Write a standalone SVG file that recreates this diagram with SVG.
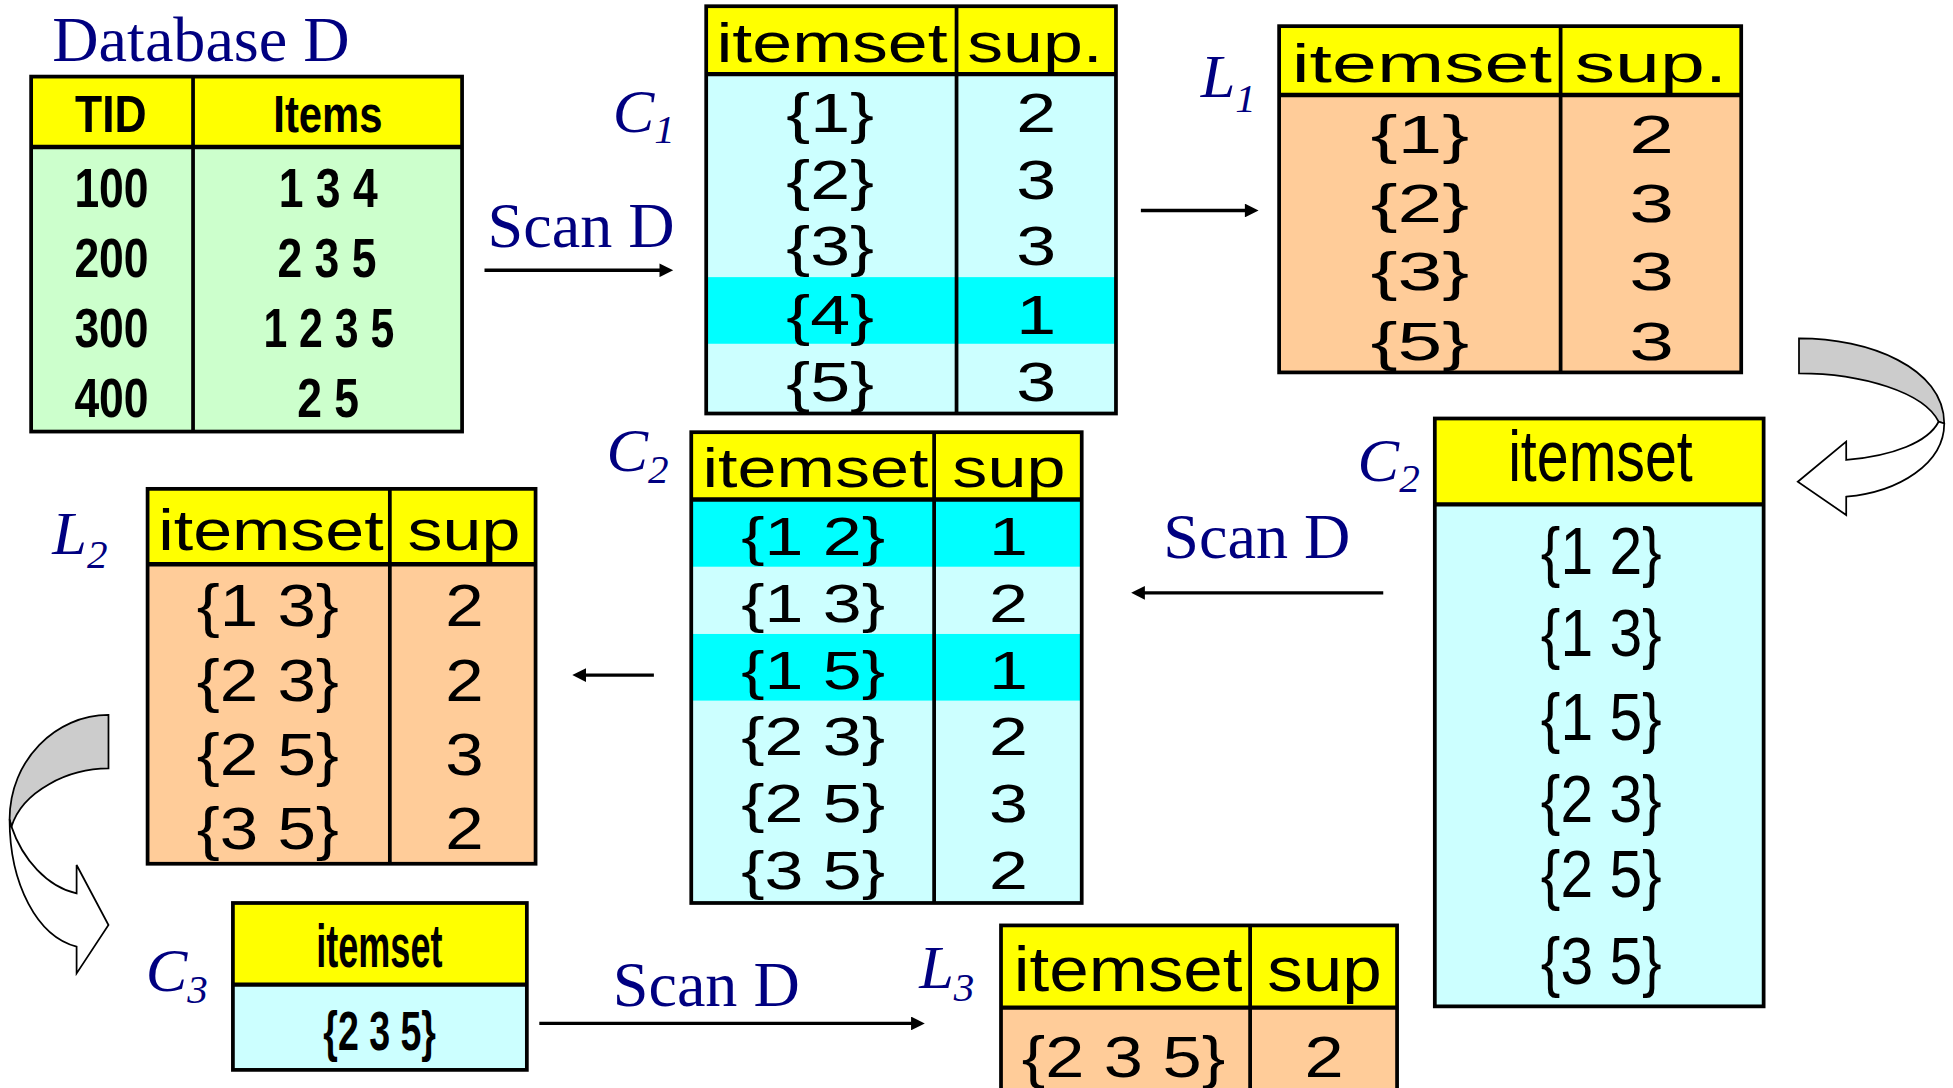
<svg xmlns="http://www.w3.org/2000/svg" width="1953" height="1088" viewBox="0 0 1953 1088">
<style>
.yel{fill:#ffff00}
.grn{fill:#ccffcc}
.lcy{fill:#ccffff}
.cy{fill:#00ffff}
.pch{fill:#ffcc99}
.bd{fill:none;stroke:#000;stroke-width:3}
.sep{stroke:#000;stroke-width:3.5}
.dv{stroke:#000;stroke-width:3}
.t{font-family:"Liberation Sans",Arial,sans-serif;text-anchor:middle;fill:#000}
.b{font-weight:bold}
.navy{font-family:"Liberation Serif","Times New Roman",serif;fill:#000080;font-size:51.5px}
.it{font-style:italic;font-size:50px}
.sub{font-size:33px}
.conn{stroke:#000;stroke-width:2.7;fill:none}
.crv{stroke:#000;stroke-width:1.4;stroke-linejoin:miter}
.gray{fill:#cccccc}
.wht{fill:#ffffff}
</style>
<defs>
<marker id="ah" viewBox="0 0 12 12" refX="6" refY="6" markerWidth="12" markerHeight="11" markerUnits="userSpaceOnUse" orient="auto"><path d="M0,0L12,6L0,12z" fill="#000"/></marker>
</defs>
<rect width="1953" height="1088" fill="#fff"/>
<g transform="scale(1.2455)">

<g id="database-d">
<text class="navy" x="42" y="49">Database D</text>
<rect class="yel" x="25" y="61.5" width="346" height="56.5"/>
<rect class="grn" x="25" y="118" width="346" height="228.5"/>
<line class="dv" x1="155" y1="61.5" x2="155" y2="346.5"/>
<line class="sep" x1="25" y1="118" x2="371" y2="118"/>
<rect class="bd" x="25" y="61.5" width="346" height="285" stroke-width="3.5"/>
<g class="t b" font-size="42">
<text transform="translate(89,106) scale(0.85,1)">TID</text>
<text transform="translate(263.3,106) scale(0.8,1)">Items</text>
</g>
<g class="t b" font-size="44.6">
<text transform="translate(89.5,166) scale(0.8,1)">100</text>
<text transform="translate(263.5,166) scale(0.8,1)">1 3 4</text>
<text transform="translate(89.5,222.5) scale(0.8,1)">200</text>
<text transform="translate(262.5,222.5) scale(0.8,1)">2 3 5</text>
<text transform="translate(89.5,279) scale(0.8,1)">300</text>
<text transform="translate(264,279) scale(0.77,1)">1 2 3 5</text>
<text transform="translate(89.5,335) scale(0.8,1)">400</text>
<text transform="translate(263.5,335) scale(0.8,1)">2 5</text>
</g>
</g>

<g id="c1">
<text class="navy it" x="492" y="106">C<tspan class="sub" dy="9">1</tspan></text>
<rect class="yel" x="567" y="5" width="329" height="54.5"/>
<rect class="lcy" x="567" y="59.5" width="329" height="272.5"/>
<rect class="cy" x="567" y="222.5" width="329" height="53.5"/>
<line class="dv" x1="768" y1="5" x2="768" y2="332"/>
<line class="sep" x1="567" y1="59.5" x2="896" y2="59.5"/>
<rect class="bd" x="567" y="5" width="329" height="327"/>
<g class="t" font-size="45">
<text transform="translate(668,49.5) scale(1.28,1)">itemset</text>
<text transform="translate(831,49.5) scale(1.28,1)">sup.</text>
<text transform="translate(666.5,106) scale(1.28,1)">{1}</text>
<text transform="translate(832,106) scale(1.28,1)">2</text>
<text transform="translate(666.5,159.5) scale(1.28,1)">{2}</text>
<text transform="translate(832,159.5) scale(1.28,1)">3</text>
<text transform="translate(666.5,213) scale(1.28,1)">{3}</text>
<text transform="translate(832,213) scale(1.28,1)">3</text>
<text transform="translate(666.5,268) scale(1.28,1)">{4}</text>
<text transform="translate(832,268) scale(1.28,1)">1</text>
<text transform="translate(666.5,321.6) scale(1.28,1)">{5}</text>
<text transform="translate(832,321.6) scale(1.28,1)">3</text>
</g>
</g>

<g id="l1">
<text class="navy it" x="964" y="77.8">L<tspan class="sub" dy="12">1</tspan></text>
<rect class="yel" x="1027" y="21" width="371" height="55.3"/>
<rect class="pch" x="1027" y="76.3" width="371" height="222.7"/>
<line class="dv" x1="1253" y1="21" x2="1253" y2="299"/>
<line class="sep" x1="1027" y1="76.3" x2="1398" y2="76.3"/>
<rect class="bd" x="1027" y="21" width="371" height="278"/>
<g class="t" font-size="43.5">
<text transform="translate(1141.5,65.7) scale(1.49,1)">itemset</text>
<text transform="translate(1325.5,65.7) scale(1.49,1)">sup.</text>
</g>
<g class="t" font-size="43">
<text transform="translate(1140,123) scale(1.5,1)">{1}</text>
<text transform="translate(1326,123) scale(1.5,1)">2</text>
<text transform="translate(1140,178) scale(1.5,1)">{2}</text>
<text transform="translate(1326,178) scale(1.5,1)">3</text>
<text transform="translate(1140,233) scale(1.5,1)">{3}</text>
<text transform="translate(1326,233) scale(1.5,1)">3</text>
<text transform="translate(1140,289) scale(1.5,1)">{5}</text>
<text transform="translate(1326,289) scale(1.5,1)">3</text>
</g>
</g>

<g id="c2-candidates">
<text class="navy it" x="1090" y="386">C<tspan class="sub" dy="9">2</tspan></text>
<rect class="yel" x="1152" y="336" width="264" height="69"/>
<rect class="lcy" x="1152" y="405" width="264" height="403"/>
<line class="sep" x1="1152" y1="405" x2="1416" y2="405" stroke-width="6"/>
<rect class="bd" x="1152" y="336" width="264" height="472" stroke-width="4"/>
<text class="t" font-size="57.5" transform="translate(1285,386) scale(0.8,1)">itemset</text>
<g class="t" font-size="53">
<text transform="translate(1285.6,460.5) scale(0.89,1)">{1 2}</text>
<text transform="translate(1285.6,527) scale(0.89,1)">{1 3}</text>
<text transform="translate(1285.6,593.8) scale(0.89,1)">{1 5}</text>
<text transform="translate(1285.6,660.3) scale(0.89,1)">{2 3}</text>
<text transform="translate(1285.6,720.5) scale(0.89,1)">{2 5}</text>
<text transform="translate(1285.6,790) scale(0.89,1)">{3 5}</text>
</g>
</g>

<g id="c2-counted">
<text class="navy it" x="487" y="378">C<tspan class="sub" dy="9.6">2</tspan></text>
<rect class="yel" x="555" y="347" width="313.5" height="54"/>
<rect class="lcy" x="555" y="401" width="313.5" height="324"/>
<rect class="cy" x="555" y="401" width="313.5" height="54"/>
<rect class="cy" x="555" y="509" width="313.5" height="53.5"/>
<line class="dv" x1="750" y1="347" x2="750" y2="725"/>
<line class="sep" x1="555" y1="401" x2="868.5" y2="401"/>
<rect class="bd" x="555" y="347" width="313.5" height="378"/>
<g class="t" font-size="44">
<text transform="translate(654.8,391) scale(1.28,1)">itemset</text>
<text transform="translate(810,391) scale(1.28,1)">sup</text>
</g>
<g class="t" font-size="43.5">
<text transform="translate(652.8,446) scale(1.29,1)">{1 2}</text>
<text transform="translate(809.6,446) scale(1.29,1)">1</text>
<text transform="translate(652.8,499.5) scale(1.29,1)">{1 3}</text>
<text transform="translate(809.6,499.5) scale(1.29,1)">2</text>
<text transform="translate(652.8,553) scale(1.29,1)">{1 5}</text>
<text transform="translate(809.6,553) scale(1.29,1)">1</text>
<text transform="translate(652.8,606.5) scale(1.29,1)">{2 3}</text>
<text transform="translate(809.6,606.5) scale(1.29,1)">2</text>
<text transform="translate(652.8,660) scale(1.29,1)">{2 5}</text>
<text transform="translate(809.6,660) scale(1.29,1)">3</text>
<text transform="translate(652.8,713.5) scale(1.29,1)">{3 5}</text>
<text transform="translate(809.6,713.5) scale(1.29,1)">2</text>
</g>
</g>

<g id="l2">
<text class="navy it" x="42" y="445">L<tspan class="sub" dy="10.7">2</tspan></text>
<rect class="yel" x="118.5" y="392.5" width="311.5" height="60.5"/>
<rect class="pch" x="118.5" y="453" width="311.5" height="240.5"/>
<line class="dv" x1="313" y1="392.5" x2="313" y2="693.5"/>
<line class="sep" x1="118.5" y1="453" x2="430" y2="453"/>
<rect class="bd" x="118.5" y="392.5" width="311.5" height="301"/>
<g class="t" font-size="46.8">
<text transform="translate(217.5,441.5) scale(1.2,1)">itemset</text>
<text transform="translate(372.5,441.5) scale(1.2,1)">sup</text>
</g>
<g class="t" font-size="47">
<text transform="translate(215,502.6) scale(1.18,1)">{1 3}</text>
<text transform="translate(373,502.6) scale(1.18,1)">2</text>
<text transform="translate(215,562.5) scale(1.18,1)">{2 3}</text>
<text transform="translate(373,562.5) scale(1.18,1)">2</text>
<text transform="translate(215,622) scale(1.18,1)">{2 5}</text>
<text transform="translate(373,622) scale(1.18,1)">3</text>
<text transform="translate(215,682) scale(1.18,1)">{3 5}</text>
<text transform="translate(373,682) scale(1.18,1)">2</text>
</g>
</g>

<g id="c3">
<text class="navy it" x="117" y="796">C<tspan class="sub" dy="9.6">3</tspan></text>
<rect class="yel" x="187" y="725" width="236" height="65.5"/>
<rect class="lcy" x="187" y="790.5" width="236" height="68.5"/>
<line class="sep" x1="187" y1="790.5" x2="423" y2="790.5" stroke-width="5.5"/>
<rect class="bd" x="187" y="725" width="236" height="134" stroke-width="4"/>
<text class="t b" font-size="49" transform="translate(304.6,776) scale(0.59,1)">itemset</text>
<text class="t b" font-size="45" transform="translate(304.8,843) scale(0.67,1)">{2 3 5}</text>
</g>

<g id="l3">
<text class="navy it" x="738" y="793.5">L<tspan class="sub" dy="10.5">3</tspan></text>
<rect class="yel" x="803.7" y="743" width="318" height="66"/>
<rect class="pch" x="803.7" y="809" width="318" height="100"/>
<line class="dv" x1="1003.7" y1="743" x2="1003.7" y2="909"/>
<line class="sep" x1="803.7" y1="809" x2="1121.7" y2="809"/>
<rect class="bd" x="803.7" y="743" width="318" height="166"/>
<g class="t" font-size="50">
<text transform="translate(905.8,796) scale(1.14,1)">itemset</text>
<text transform="translate(1063.5,796) scale(1.14,1)">sup</text>
</g>
<g class="t" font-size="45.4">
<text transform="translate(902,864.5) scale(1.245,1)">{2 3 5}</text>
<text transform="translate(1063,864.5) scale(1.245,1)">2</text>
</g>
</g>

<g id="connectors">
<text class="navy" x="391.5" y="198.6">Scan D</text>
<line class="conn" x1="389" y1="217" x2="535" y2="217" marker-end="url(#ah)"/>
<line class="conn" x1="916" y1="169" x2="1005" y2="169" marker-end="url(#ah)"/>
<text class="navy" x="934" y="448">Scan D</text>
<line class="conn" x1="1110.6" y1="476" x2="913.7" y2="476" marker-end="url(#ah)"/>
<line class="conn" x1="525" y1="542" x2="465" y2="542" marker-end="url(#ah)"/>
<text class="navy" x="492" y="808">Scan D</text>
<line class="conn" x1="433" y1="821.7" x2="737" y2="821.7" marker-end="url(#ah)"/>
<g id="curved-arrow-right">
<path class="gray crv" d="M1444.4,271.6 C1500,271.6 1561,295 1561,340 L1556.5,338.6 C1545,315 1495,299.7 1444.4,299.7 Z"/>
<path class="wht crv" d="M1561,340 C1561,372 1525,395 1482.3,398.8 L1482.3,413.5 L1443.4,386.8 L1482.3,354.6 L1482.3,369.3 C1520,366 1548,355 1556.5,338.6 Z"/>
</g>
<g id="curved-arrow-left">
<path class="gray crv" d="M87.1,574 C45,574 7.7,610 7.7,658 L9.2,663.7 C18,635 55,617 87.1,617 Z"/>
<path class="wht crv" d="M7.7,658 C7.7,710 30,752 61.5,760 L61.5,781.5 L87.1,742.7 L61.5,694.5 L61.5,717.3 C38,712 18,690 9.2,663.7 Z"/>
</g>
</g>

</g>
</svg>
